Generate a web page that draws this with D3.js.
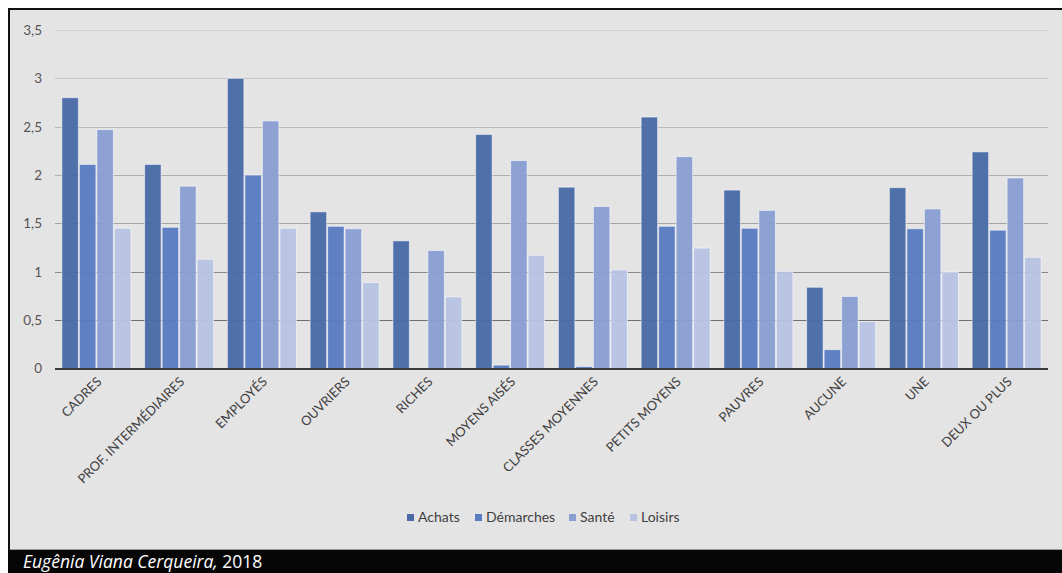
<!DOCTYPE html>
<html><head><meta charset="utf-8">
<script src="https://cdn.jsdelivr.net/npm/d3@7"></script>
<style>
html,body{margin:0;padding:0;background:#fff;}
svg{display:block;}
</style></head>
<body>
<svg id="chart" width="1062" height="573"></svg>
<script>
const categories = ["CADRES","PROF. INTERMÉDIAIRES","EMPLOYÉS","OUVRIERS","RICHES","MOYENS AISÉS","CLASSES MOYENNES","PETITS MOYENS","PAUVRES","AUCUNE","UNE","DEUX OU PLUS"];
const seriesNames = ["Achats","Démarches","Santé","Loisirs"];
const achats    = [2.80, 2.11, 3.00, 1.62, 1.32, 2.42, 1.875, 2.60, 1.845, 0.84, 1.87, 2.24];
const demarches = [2.11, 1.46, 2.00, 1.47, 0.00, 0.035, 0.02, 1.47, 1.45, 0.195, 1.445, 1.43];
const sante     = [2.47, 1.885, 2.56, 1.445, 1.22, 2.15, 1.675, 2.19, 1.635, 0.745, 1.65, 1.97];
const loisirs   = [1.45, 1.13, 1.45, 0.89, 0.74, 1.17, 1.02, 1.245, 1.005, 0.485, 0.997, 1.15];
const yTicks = [0, 0.5, 1, 1.5, 2, 2.5, 3, 3.5];
const colors = ["#4a6ba7", "#5a7cc0", "#899fd2", "#b8c3e2"];
const footerName = "Eugênia Viana Cerqueira,";
const footerYear = " 2018";

const seriesValues = [achats, demarches, sante, loisirs];
const data = categories.map((c, i) => ({cat: c, vals: seriesValues.map(s => s[i])}));

const svg = d3.select("#chart");
const W = 1062, H = 573;
const FONT = "Lato, 'Open Sans', sans-serif";

// background and frame
svg.append("rect").attr("x", 0).attr("y", 0).attr("width", W).attr("height", H).attr("fill", "#ffffff");
svg.append("rect").attr("x", 8).attr("y", 8).attr("width", W - 8).attr("height", 550 - 8).attr("fill", "#e5e4e5");
svg.append("line").attr("x1", 9).attr("x2", W).attr("y1", 9).attr("y2", 9).attr("stroke", "#111").attr("stroke-width", 2);
svg.append("line").attr("x1", 9).attr("x2", 9).attr("y1", 8).attr("y2", 550).attr("stroke", "#111").attr("stroke-width", 2);
svg.append("rect").attr("x", 8).attr("y", 550).attr("width", W - 8).attr("height", H - 550).attr("fill", "#060606");
svg.append("line").attr("x1", 10).attr("x2", W).attr("y1", 549.5).attr("y2", 549.5).attr("stroke", "#9a9a9a").attr("stroke-width", 1);

const plot = {left: 55, right: 1048, top: 30, bottom: 368.5};
const y = d3.scaleLinear().domain([0, 3.5]).range([plot.bottom, plot.top]);
const x0 = d3.scaleBand().domain(categories).range([plot.left, plot.right]).paddingInner(0.154).paddingOuter(0.077);
const x1 = d3.scaleBand().domain(seriesNames).range([0, x0.bandwidth()]).padding(0);

// gridlines
const gridColor = d3.scaleLinear().domain([0.5, 1.5, 3.5]).range(["#6e6e6e", "#a4a4a4", "#cfcfcf"]);
svg.append("g").selectAll("line").data(yTicks.filter(t => t > 0)).join("line")
  .attr("x1", plot.left).attr("x2", plot.right)
  .attr("y1", d => Math.round(y(d)) + 0.5).attr("y2", d => Math.round(y(d)) + 0.5)
  .attr("stroke", d => gridColor(d)).attr("stroke-width", 1.2);

// y axis labels
const yAxis = d3.axisLeft(y).tickValues(yTicks).tickSize(0).tickPadding(0)
  .tickFormat(d => String(d).replace(".", ","));
const yg = svg.append("g").attr("transform", "translate(42,0)").call(yAxis);
yg.select(".domain").remove();
yg.selectAll("text").attr("font-family", FONT).attr("font-size", 13.5).attr("fill", "#555555");

// bars
const groups = svg.append("g").selectAll("g").data(data).join("g")
  .attr("transform", d => `translate(${x0(d.cat)},0)`);
groups.selectAll("rect").data(d => d.vals.map((v, i) => ({name: seriesNames[i], v, i}))).join("rect")
  .attr("x", d => x1(d.name) + 0.5)
  .attr("width", x1.bandwidth() - 1)
  .attr("y", d => y(d.v))
  .attr("height", d => Math.max(0, plot.bottom - y(d.v)))
  .attr("fill", d => colors[d.i])
  .attr("fill-opacity", 0.97)
  .attr("stroke", "rgba(255,255,255,0.55)")
  .attr("stroke-width", 1);

// baseline
svg.append("line").attr("x1", plot.left).attr("x2", plot.right)
  .attr("y1", plot.bottom + 0.5).attr("y2", plot.bottom + 0.5)
  .attr("stroke", "#3d3d3d").attr("stroke-width", 2);

// x labels
const xAxis = d3.axisBottom(x0).tickSize(0).tickPadding(0);
const xg = svg.append("g").attr("transform", `translate(0,${plot.bottom})`).call(xAxis);
xg.select(".domain").remove();
xg.selectAll("text")
  .attr("font-family", FONT).attr("font-size", 13).attr("fill", "#404040")
  .attr("text-anchor", "end").attr("dy", null).attr("y", null)
  .attr("transform", "translate(6,14) rotate(-45)");

// legend
const legendX = [407, 475, 569, 630];
const legend = svg.append("g").attr("transform", "translate(0,522)");
seriesNames.forEach((n, i) => {
  legend.append("rect").attr("x", legendX[i]).attr("y", -8).attr("width", 7).attr("height", 7).attr("fill", colors[i]);
  legend.append("text").attr("x", legendX[i] + 11).attr("y", 0).text(n)
    .attr("font-family", FONT).attr("font-size", 14).attr("fill", "#404040");
});

// footer
const ft = svg.append("text").attr("x", 23).attr("y", 568)
  .attr("font-family", "'Open Sans', sans-serif").attr("font-size", 17.5).attr("fill", "#ffffff");
ft.append("tspan").attr("font-style", "italic").text(footerName);
ft.append("tspan").text(footerYear);
</script>
</body></html>
